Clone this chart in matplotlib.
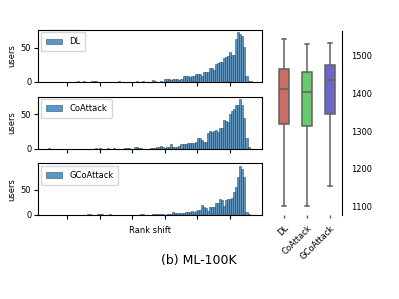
import colorsys
import numpy as np
import matplotlib
matplotlib.use("Agg")
import matplotlib.pyplot as plt

# ---------------- data ----------------
methods = ["DL", "CoAttack", "GCoAttack"]

dl_counts = [0]*14 + [1, 0, 0, 1, 0, 0, 0, 1, 1, 1] + [0]*10 + [1] + [0]*8 + [1, 0, 0, 1, 0, 0, 0, 0,
             3, 2, 0, 0, 1, 0, 4, 4, 4, 3, 5, 4, 5, 3, 5, 9, 8, 8, 7, 8, 8, 12, 12, 11, 9, 15, 15, 14,
             21, 21, 18, 27, 28, 30, 29, 35, 37, 38, 44, 40, 39, 63, 73, 70, 67, 52, 8, 2, 1]

coattack_counts = [1] + [0]*22 + [1, 0, 1, 0, 0, 0, 1, 0, 0, 1, 0, 0, 0, 0, 1, 1, 1, 0, 0, 2, 2, 1, 1,
                   0, 0, 0, 0, 1, 1, 1, 2, 2, 4, 2, 1, 2, 3, 6, 2, 3, 3, 4, 6, 6, 7, 8, 8, 8, 8, 9, 16,
                   15, 13, 10, 10, 22, 25, 24, 26, 27, 24, 30, 30, 41, 40, 38, 51, 55, 57, 63, 64, 72,
                   63, 44, 16, 3, 0]

gcoattack_counts = [0]*19 + [1, 1, 0, 0, 0, 1, 2, 1, 0, 0, 0, 1] + [0]*14 + [1, 1, 0, 0, 0, 0,
                    1, 1, 1, 2, 1, 1, 0, 1, 1, 1, 5, 3, 3, 3, 3, 4, 5, 5, 6, 7, 6, 7, 10, 10, 19, 15,
                    14, 8, 16, 15, 15, 24, 24, 32, 30, 17, 30, 32, 31, 34, 45, 55, 75, 97, 91, 75, 6,
                    1, 0]

hist_counts = [dl_counts, coattack_counts, gcoattack_counts]
hist_yticks = [0, 50]
tick_bins = [9.13, 25.13, 41.13, 57.13, 73.13, 89.13]

# box plot statistics (final rank)
box_whislo = [1103, 1101, 1156]
box_q1 = [1320, 1314, 1346]
box_med = [1411, 1405, 1436]
box_q3 = [1465, 1456, 1475]
box_whishi = [1544, 1531, 1534]
box_yticks = [1100, 1200, 1300, 1400, 1500]

# ---------------- figure ----------------
fig = plt.figure(figsize=(3.99, 2.99), dpi=100)
plt.rcParams['font.family'] = ['DejaVu Sans']
FS = 6

hist_pos = [(0.096, 0.726, 0.560, 0.174),
            (0.096, 0.503, 0.560, 0.174),
            (0.096, 0.281, 0.560, 0.173)]

nb = len(dl_counts)
for k, (counts, name) in enumerate(zip(hist_counts, methods)):
    ax = fig.add_axes(hist_pos[k])
    edges = np.arange(nb)
    ax.bar(edges, counts, width=1.0, align='edge',
           facecolor=(0.122, 0.467, 0.706, 0.75),
           edgecolor=(0.15, 0.25, 0.35, 0.9), linewidth=0.4, label=name)
    ax.set_xlim(-0.05 * nb, 1.05 * nb)
    ax.set_ylim(0, max(counts) * 1.05)
    ax.set_xticks(tick_bins)
    ax.set_xticklabels([])
    ax.set_yticks(hist_yticks)
    ax.tick_params(axis='both', labelsize=FS, length=3, width=0.8, pad=2)
    ax.set_ylabel("users", fontsize=FS, labelpad=3)
    ax.legend(loc='upper left', fontsize=FS, handlelength=2.0, handleheight=0.7,
              borderpad=0.6, borderaxespad=0.3, framealpha=0.8)
    for s in ax.spines.values():
        s.set_linewidth(0.8)
    if k == 2:
        ax.set_xlabel("Rank shift", fontsize=FS, labelpad=3)

# ---------------- box plot ----------------
bax = fig.add_axes((0.683, 0.281, 0.173, 0.616))
base = [(0.86, 0.3712, 0.34), (0.34, 0.86, 0.3712), (0.3712, 0.34, 0.86)]
cols = []
for c in base:
    h, l, s = colorsys.rgb_to_hls(*c)
    cols.append(colorsys.hls_to_rgb(h, l, s * 0.75))

stats = []
for i, m in enumerate(methods):
    stats.append(dict(label=m, whislo=box_whislo[i], q1=box_q1[i], med=box_med[i],
                      q3=box_q3[i], whishi=box_whishi[i], fliers=[]))
gray = (0.38, 0.38, 0.38)
bp = bax.bxp(stats, positions=range(len(methods)), widths=0.4, patch_artist=True,
             showfliers=False, capwidths=0.18,
             boxprops=dict(edgecolor=gray, linewidth=1.1),
             whiskerprops=dict(color=gray, linewidth=1.1),
             capprops=dict(color=gray, linewidth=1.1),
             medianprops=dict(color=gray, linewidth=1.1))
for patch, c in zip(bp['boxes'], cols):
    patch.set_facecolor(c)

bax.set_xlim(-0.5, len(methods) - 0.5)
bax.set_ylim(1078, 1566)
bax.set_yticks(box_yticks)
bax.yaxis.tick_right()
bax.set_xticks(range(len(methods)))
bax.set_xticklabels(methods, rotation=45, ha='right', rotation_mode='anchor', fontsize=FS)
bax.tick_params(axis='y', labelsize=FS, length=0, pad=7)
bax.tick_params(axis='x', length=2, width=1.0, color=gray, pad=4)
for side in ['left', 'top', 'bottom']:
    bax.spines[side].set_visible(False)
bax.spines['right'].set_linewidth(0.8)

fig.text(0.499, 0.130, "(b) ML-100K", ha='center', va='center', fontsize=9)

fig.savefig("out.png", dpi=100)
